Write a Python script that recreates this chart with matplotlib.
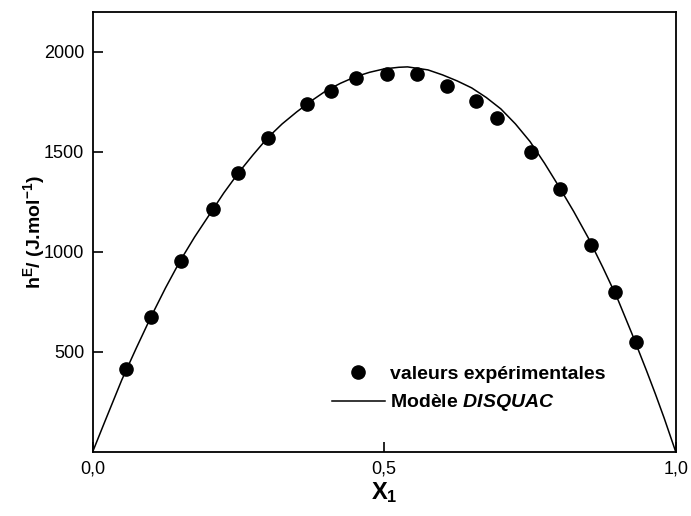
import matplotlib.pyplot as plt

plt.rcParams['font.family'] = ['Liberation Sans', 'DejaVu Sans']
plt.rcParams['mathtext.fontset'] = 'custom'
plt.rcParams['mathtext.rm'] = 'Liberation Sans:bold'
plt.rcParams['mathtext.it'] = 'Liberation Sans:bold:italic'
plt.rcParams['mathtext.bf'] = 'Liberation Sans:bold'

# experimental points
x_exp = [0.058, 0.100, 0.151, 0.207, 0.249, 0.301, 0.368, 0.409, 0.452,
         0.504, 0.556, 0.607, 0.658, 0.694, 0.752, 0.801, 0.855, 0.895, 0.931]
h_exp = [413, 673, 955, 1213, 1393, 1570, 1740, 1802, 1870,
         1888, 1890, 1830, 1752, 1672, 1502, 1313, 1035, 802, 548]

# DISQUAC model curve
x_mod = [0.0, 0.02, 0.05, 0.075, 0.10, 0.125, 0.15, 0.175, 0.20, 0.225,
         0.25, 0.275, 0.30, 0.325, 0.35, 0.375, 0.40, 0.425, 0.45, 0.475,
         0.50, 0.525, 0.54, 0.575, 0.60, 0.625, 0.65, 0.675, 0.70, 0.725,
         0.75, 0.775, 0.80, 0.825, 0.85, 0.875, 0.90, 0.925, 0.95, 0.965,
         0.98, 0.99, 1.0]
h_mod = [0, 145, 360, 520, 675, 820, 955, 1075, 1185, 1295,
         1395, 1485, 1570, 1640, 1700, 1755, 1805, 1843, 1875, 1898,
         1915, 1923, 1925, 1910, 1885, 1855, 1820, 1772, 1715, 1640,
         1552, 1443, 1325, 1202, 1070, 922, 767, 590, 405, 290,
         170, 85, 0]

x_ticks = [0.0, 0.5, 1.0]
x_ticklabels = ['0,0', '0,5', '1,0']
y_ticks = [500, 1000, 1500, 2000]

fig = plt.figure(figsize=(6.91, 5.16), dpi=100)
ax = fig.add_axes([0.134, 0.124, 0.844, 0.853])

ax.plot(x_exp, h_exp, 'o', color='black', markersize=9.5, label='valeurs expérimentales')
ax.plot(x_mod, h_mod, '-', color='black', linewidth=1.1, label=r'Modèle $DISQUAC$')

ax.set_xlim(0, 1.0)
ax.set_ylim(0, 2200)
ax.set_xticks(x_ticks)
ax.set_xticklabels(x_ticklabels)
ax.set_yticks(y_ticks)
ax.tick_params(direction='in', length=7, width=1.2, labelsize=13, pad=6)
for s in ax.spines.values():
    s.set_linewidth(1.3)

ax.set_xlabel(r'X$_1$', fontsize=17, fontweight='bold', labelpad=2)
ax.set_ylabel(r'h$^{\mathrm{E}}$/ (J.mol$^{\mathrm{-1}}$)', fontsize=14,
              fontweight='bold', labelpad=-2)

leg = ax.legend(loc='upper left', bbox_to_anchor=(332 / 691, 1 - 365 / 516),
                bbox_transform=fig.transFigure, frameon=False, borderpad=0,
                borderaxespad=0, handlelength=2.7, handletextpad=0.3,
                labelspacing=0.5, prop={'weight': 'bold', 'size': 14})

fig.savefig('out.png', dpi=100)
